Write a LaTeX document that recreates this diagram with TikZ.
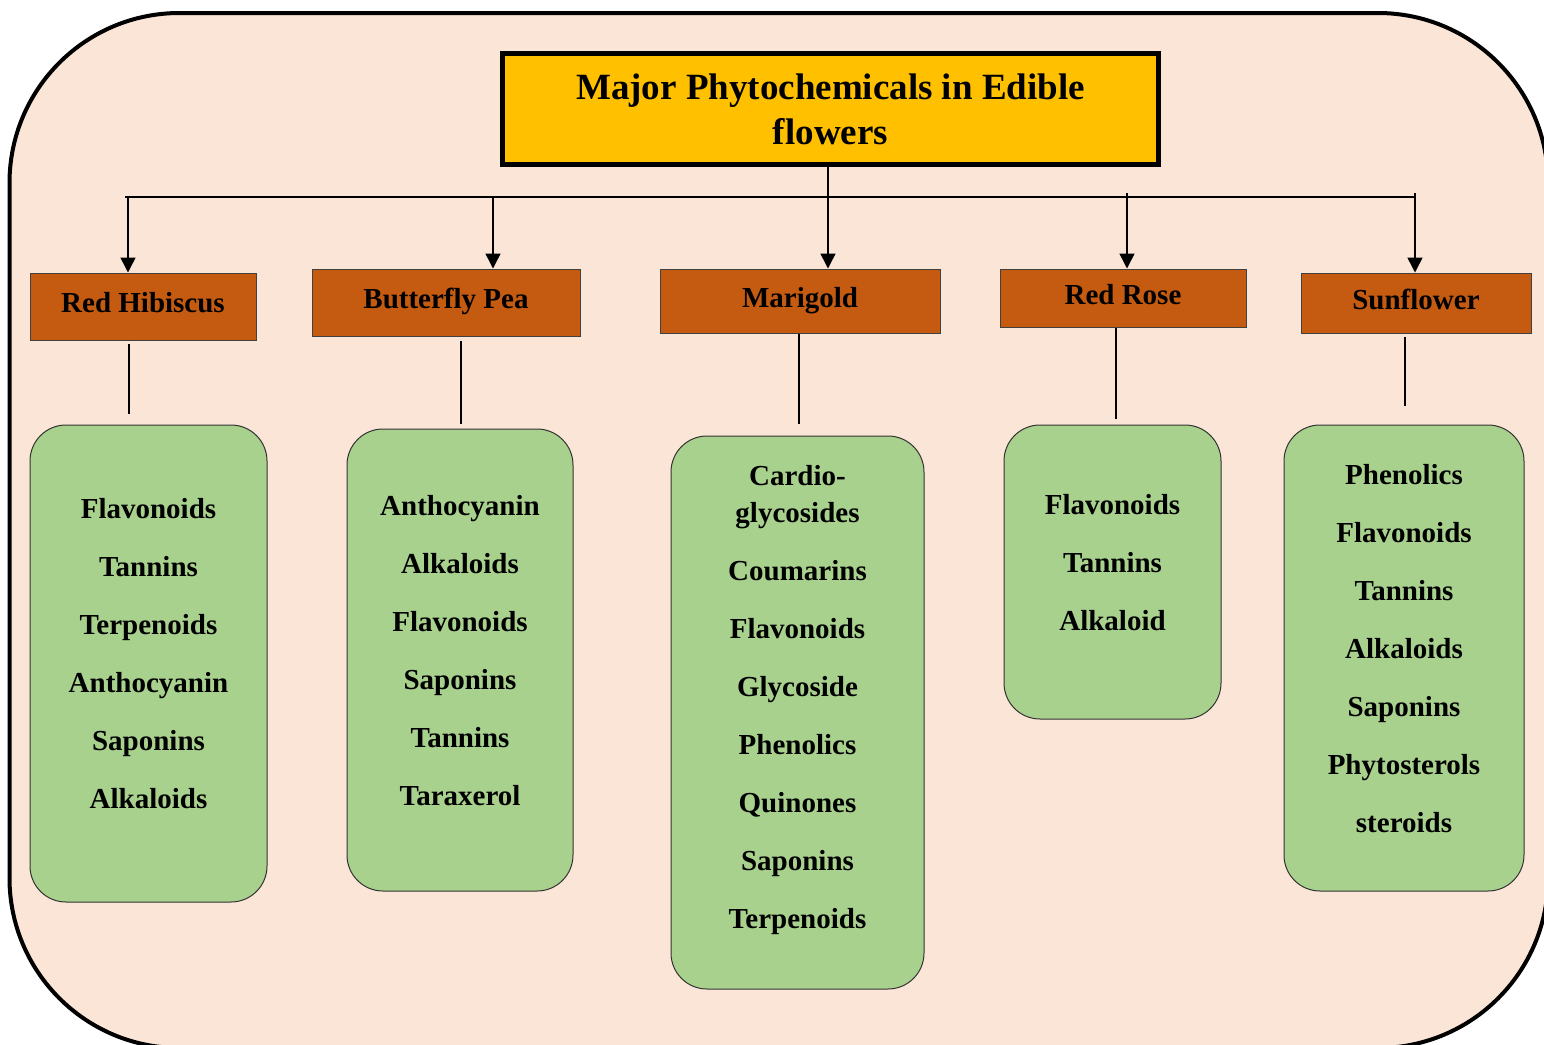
\documentclass[tikz,border=0pt]{standalone}
\usepackage{fontspec}
\setmainfont{Liberation Serif}
\usetikzlibrary{arrows.meta, positioning, calc}
\definecolor{peach}{HTML}{FBE5D6}
\definecolor{titlegold}{HTML}{FFC000}
\definecolor{rust}{HTML}{C55A11}
\definecolor{leaf}{HTML}{A9D18E}

\begin{document}
\begin{tikzpicture}[x=0.5pt,y=-0.5pt,>={Triangle[length=7.5pt,width=7.5pt]},
            head/.style={draw=black,line width=2.5pt,fill=titlegold,minimum width=328pt,minimum height=55.5pt,
              align=center,font=\fontsize{18.5}{22.5}\selectfont\bfseries},
            flower/.style={draw=black!75,line width=0.5pt,fill=rust,inner sep=2pt,
              font=\fontsize{14.5}{17}\selectfont\bfseries,text height=10pt,text depth=4pt},
            items/.style={draw=black!80,line width=0.5pt,fill=leaf,rounded corners=18pt,align=center,
              font=\fontsize{14.5}{29}\selectfont\bfseries},
            link/.style={draw=black,line width=0.75pt}]
  \useasboundingbox (0,0) rectangle (1544,1045);
  \clip (0,0) rectangle (1544,1045);
  \draw[line width=2pt,fill=peach,rounded corners=85pt] (9.5,13) rectangle (1548,1048);

  \node[head] at (830.5,109) (title) {Major Phytochemicals in Edible\\flowers};

  \node[flower,minimum width=113pt,minimum height=33.5pt] at (143,306.5) (hibiscus) {Red Hibiscus};
  \node[flower,minimum width=134pt,minimum height=33.5pt] at (446,302.5) (pea) {Butterfly Pea};
  \node[flower,minimum width=140pt,minimum height=32pt] at (800,301) (marigold) {Marigold};
  \node[flower,minimum width=123pt,minimum height=29pt] at (1123,298) (rose) {Red Rose};
  \node[flower,minimum width=115pt,minimum height=30pt] at (1416,303) (sunflower) {Sunflower};

  \node[items,minimum width=118.5pt,minimum height=238.5pt] at (148.5,663.5) (hibiscus list)
    {Flavonoids\\Tannins\\Terpenoids\\Anthocyanin\\Saponins\\Alkaloids\rule[-10pt]{0pt}{0pt}};
  \node[items,minimum width=113pt,minimum height=231pt] at (460,660) (pea list)
    {Anthocyanin\\Alkaloids\\Flavonoids\\Saponins\\Tannins\\Taraxerol\rule[-10pt]{0pt}{0pt}};
  \node[items,minimum width=126.5pt,minimum height=276.5pt] at (797.5,712.5) (marigold list)
    {Cardio-\\[-10.5pt]glycosides\\Coumarins\\Flavonoids\\Glycoside\\Phenolics\\Quinones\\Saponins\\Terpenoids\rule[-16pt]{0pt}{0pt}};
  \node[items,minimum width=108.5pt,minimum height=147pt] at (1112.5,572) (rose list)
    {Flavonoids\\Tannins\\Alkaloid\rule[-10pt]{0pt}{0pt}};
  \node[items,minimum width=120pt,minimum height=233pt] at (1404,658) (sunflower list)
    {Phenolics\\Flavonoids\\Tannins\\Alkaloids\\Saponins\\Phytosterols\\steroids\rule[-10pt]{0pt}{0pt}};

  \coordinate (bar hib) at (128,197);
  \coordinate (bar pea) at (493,197);
  \coordinate (bar mar) at (828,197);
  \coordinate (bar rose) at (1127,197);
  \coordinate (bar sun) at (1415,197);

  \draw[link] (bar mar |- title.south) -- (bar mar);
  \draw[link] ([xshift=-1.5pt]bar hib) -- (bar sun);
  \draw[link,->] (bar hib) -- (bar hib |- hibiscus.north);
  \draw[link,->] (bar pea) -- (bar pea |- pea.north);
  \draw[link,->] (bar mar) -- (bar mar |- marigold.north);
  \draw[link,->] ([yshift=2pt]bar rose) -- (bar rose |- rose.north);
  \draw[link,->] ([yshift=2pt]bar sun) -- (bar sun |- sunflower.north);

  \draw[link,shorten <=1.5pt,shorten >=5.5pt] ([xshift=-7pt]hibiscus.south) -- ([xshift=-9.75pt]hibiscus list.north);
  \draw[link,shorten <=2pt,shorten >=2.5pt] ([xshift=7.5pt]pea.south) -- ([xshift=0.5pt]pea list.north);
  \draw[link,shorten >=6pt] ([xshift=-0.5pt]marigold.south) -- ([xshift=0.75pt]marigold list.north);
  \draw[link,shorten >=3pt] ([xshift=-3.5pt]rose.south) -- ([xshift=1.75pt]rose list.north);
  \draw[link,shorten <=1.5pt,shorten >=9.5pt] ([xshift=-5.5pt]sunflower.south) -- ([xshift=0.5pt]sunflower list.north);
\end{tikzpicture}
\end{document}
